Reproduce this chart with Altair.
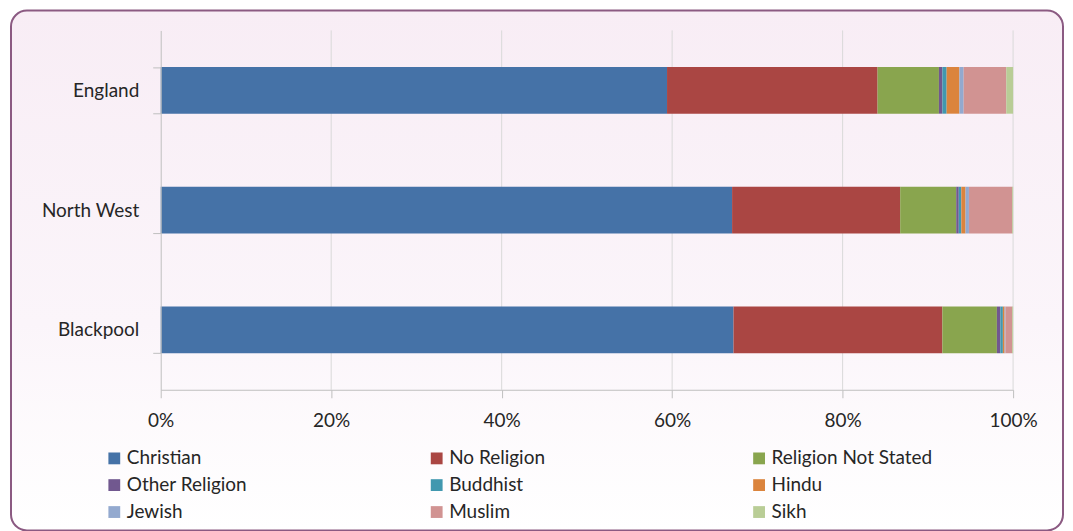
import altair as alt
import pandas as pd

areas = ["England", "North West", "Blackpool"]
religions = ["Christian", "No Religion", "Religion Not Stated", "Other Religion",
             "Buddhist", "Hindu", "Jewish", "Muslim", "Sikh"]
colors = ["#4572A7", "#AA4643", "#89A54E", "#71588F", "#4198AF",
          "#DB843D", "#93A9CF", "#D19392", "#B9CD96"]
england = [59.4, 24.7, 7.2, 0.4, 0.5, 1.5, 0.5, 5.0, 0.8]
north_west = [67.3, 19.8, 6.6, 0.3, 0.3, 0.5, 0.4, 5.1, 0.1]
blackpool = [67.2, 24.5, 6.4, 0.4, 0.3, 0.2, 0.1, 0.8, 0.1]
grid_ticks = [0.2, 0.4, 0.6, 0.8, 1.0]

rows = []
for area, vals in zip(areas, [england, north_west, blackpool]):
    for i, (rel, v) in enumerate(zip(religions, vals)):
        rows.append({"Area": area, "Religion": rel, "Value": v, "order": i})
df = pd.DataFrame(rows)

FONT = "Lato"
TXT = "#262626"

frame = alt.Chart(alt.Data(values=[{}])).mark_rect(
    cornerRadius=16,
    stroke="#8B5A82",
    strokeWidth=2,
    fill=alt.LinearGradient(
        gradient="linear", x1=0, x2=0, y1=0, y2=1,
        stops=[alt.GradientStop(color="#F8EDF5", offset=0),
               alt.GradientStop(color="#FBF5FA", offset=0.6),
               alt.GradientStop(color="#FFFFFF", offset=1)],
    ),
).encode(
    x=alt.value(-150), x2=alt.value(904),
    y=alt.value(-20), y2=alt.value(501),
)

grid = alt.Chart(pd.DataFrame({"t": grid_ticks})).mark_rule(
    color="#D9D9D9", strokeWidth=1
).encode(x=alt.X("t:Q", scale=alt.Scale(domain=[0, 1])))

bars = alt.Chart(df).mark_bar().encode(
    x=alt.X("Value:Q", stack="normalize",
            scale=alt.Scale(domain=[0, 1]),
            axis=alt.Axis(format="%", values=[0, 0.2, 0.4, 0.6, 0.8, 1.0],
                          title=None, grid=False, domainColor="#BFBFBF",
                          tickColor="#BFBFBF", tickSize=8, labelPadding=14,
                          labelFlush=False,
                          labelFontSize=19, labelFont=FONT, labelColor=TXT,
                          zindex=1)),
    y=alt.Y("Area:N", sort=areas, title=None,
            scale=alt.Scale(paddingInner=0.61, paddingOuter=0.305),
            axis=alt.Axis(tickBand="extent", domainColor="#BFBFBF",
                          tickColor="#BFBFBF", tickSize=8, labelPadding=14,
                          labelFontSize=19, labelFont=FONT, labelColor=TXT,
                          zindex=1)),
    color=alt.Color("Religion:N", sort=religions,
                    scale=alt.Scale(domain=religions, range=colors),
                    legend=alt.Legend(
                        title=None, orient="none", legendX=-56, legendY=419,
                        columns=3, direction="horizontal", gridAlign="all",
                        columnPadding=140, rowPadding=7,
                        symbolType="square", symbolSize=140,
                        symbolStrokeWidth=0, symbolOffset=0,
                        labelFontSize=19, labelFont=FONT, labelColor=TXT,
                        labelOffset=3, labelLimit=300)),
    order=alt.Order("order:Q"),
)

chart = alt.layer(frame, grid, bars).properties(
    width=854, height=360,
    autosize=alt.AutoSizeParams(type="none"),
    padding={"left": 153, "top": 22, "right": 52, "bottom": 141},
    background="white",
).configure_view(stroke=None)

chart.save("out.html", embed_options={"renderer": "svg", "actions": False})
